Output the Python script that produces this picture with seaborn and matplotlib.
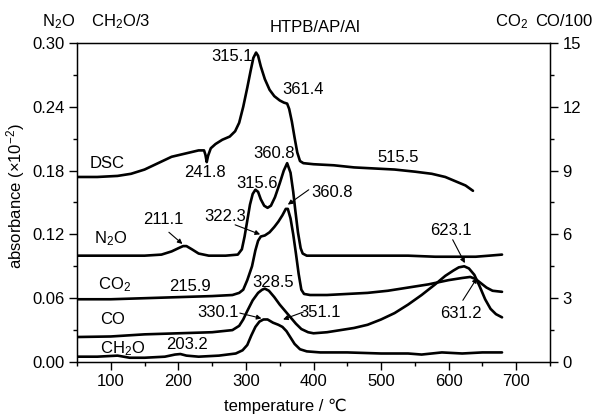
import matplotlib
matplotlib.use("Agg")
import matplotlib.pyplot as plt
import seaborn as sns
from matplotlib.ticker import MultipleLocator

sns.set_style("ticks")
plt.rcParams['font.family'] = ['Liberation Sans', 'DejaVu Sans']
plt.rcParams['mathtext.default'] = 'regular'
plt.rcParams['text.color'] = 'black'
plt.rcParams['axes.labelcolor'] = 'black'
plt.rcParams['axes.edgecolor'] = 'black'
plt.rcParams['xtick.color'] = 'black'
plt.rcParams['ytick.color'] = 'black'

# ---- data (temperature in C, absorbance) ----
dsc_t = [50, 80, 110, 130, 150, 170, 190, 210, 230, 238, 240, 242, 244, 248, 255, 265, 276,
         284, 290, 296, 302, 307, 311, 315, 318, 322, 328, 335, 342, 350, 356, 361, 364, 368,
         372, 376, 380, 385, 400, 430, 460, 490, 520, 550, 575, 595, 610, 625, 636]
dsc_y = [.174, .174, .175, .177, .181, .187, .193, .196, .199, .199, .195, .188, .194, .201,
         .205, .209, .212, .217, .225, .240, .258, .274, .286, .291, .288, .278, .266, .256,
         .250, .246, .244, .243, .238, .226, .211, .197, .189, .187, .186, .185, .183, .182,
         .181, .179, .177, .174, .170, .166, .161]

n2o_t = [50, 100, 150, 175, 190, 200, 207, 212, 220, 230, 245, 270, 288, 294, 298, 302, 306,
         310, 314, 318, 322, 327, 332, 337, 343, 350, 356, 361, 366, 370, 373, 377, 381, 384,
         390, 420, 460, 500, 540, 580, 610, 640, 660, 679]
n2o_y = [.100, .100, .100, .101, .104, .107, .109, .109, .106, .102, .100, .100, .101, .106,
         .118, .133, .148, .158, .162, .160, .153, .147, .145, .147, .155, .168, .180, .187,
         .178, .160, .143, .122, .107, .102, .100, .100, .100, .100, .100, .099, .099, .099,
         .100, .101]

co2_t = [50, 100, 150, 200, 250, 280, 290, 296, 302, 309, 314, 318, 322, 328, 335, 342, 348,
         354, 359, 362, 366, 370, 374, 378, 382, 386, 395, 420, 450, 480, 510, 540, 570, 600,
         620, 632, 640, 648, 656, 665, 679]
co2_y = [.059, .059, .060, .061, .062, .063, .065, .068, .077, .090, .105, .114, .118, .119,
         .122, .127, .132, .138, .144, .144, .135, .120, .102, .083, .068, .064, .063, .063,
         .064, .065, .067, .070, .073, .077, .079, .080, .078, .074, .070, .067, .066]

co_t = [50, 100, 150, 200, 250, 280, 290, 296, 302, 310, 318, 324, 328, 334, 342, 350, 358,
        366, 374, 382, 392, 400, 420, 440, 460, 480, 500, 520, 540, 560, 580, 595, 607, 615,
        623, 630, 638, 646, 654, 662, 670, 679]
co_y = [.0235, .024, .026, .027, .028, .030, .034, .040, .048, .058, .065, .068, .069, .067,
        .061, .054, .048, .042, .036, .031, .028, .027, .028, .030, .032, .035, .040, .046,
        .054, .063, .073, .081, .086, .089, .090, .088, .082, .071, .059, .050, .045, .042]

ch2o_t = [50, 80, 110, 128, 150, 180, 195, 203, 212, 230, 260, 285, 295, 302, 308, 314, 320,
          326, 332, 340, 348, 354, 360, 366, 372, 380, 390, 410, 450, 500, 540, 560, 590,
          620, 650, 679]
ch2o_y = [.005, .005, .006, .004, .004, .005, .007, .0075, .006, .005, .006, .008, .011, .016,
          .025, .033, .038, .040, .040, .037, .035, .033, .029, .023, .017, .012, .010, .009,
          .009, .008, .008, .007, .009, .008, .009, .009]

curves = [(dsc_t, dsc_y), (n2o_t, n2o_y), (co2_t, co2_y), (co_t, co_y), (ch2o_t, ch2o_y)]

# plain labels: (text, x, y)
labels = [("DSC", 94, 0.187), ("N$_2$O", 99, 0.116), ("CO$_2$", 106, 0.073),
          ("CO", 102, 0.040), ("CH$_2$O", 117, 0.013),
          ("241.8", 239, 0.178), ("315.1", 279, 0.287), ("361.4", 384, 0.256),
          ("360.8", 341, 0.196), ("315.6", 316, 0.168), ("215.9", 217, 0.071),
          ("328.5", 340, 0.075), ("203.2", 213, 0.016), ("515.5", 525, 0.192)]

# labels with arrows: (text, text x, text y, arrow start x, y, arrow tip x, y)
arrow_labels = [("211.1", 177, 0.134, 186, 0.122, 206, 0.111),
                ("322.3", 269, 0.137, 284, 0.129, 321, 0.120),
                ("360.8", 427, 0.159, 393, 0.162, 362, 0.148),
                ("330.1", 259, 0.047, 291, 0.046, 323, 0.041),
                ("351.1", 410, 0.047, 385, 0.047, 355, 0.040),
                ("623.1", 603, 0.124, 606, 0.115, 624, 0.093),
                ("631.2", 618, 0.046, 621, 0.058, 642, 0.079)]

fig = plt.figure(figsize=(5.95, 4.19), dpi=100)
ax = fig.add_axes([77/595, 1-362/419, 473/595, 319/419])

for t, y in curves:
    sns.lineplot(x=t, y=y, ax=ax, color='black', lw=1.9)

fs = 12
for txt, x, y in labels:
    ax.text(x, y, txt, fontsize=fs, ha='center', va='center')
for txt, x, y, x0, y0, x1, y1 in arrow_labels:
    ax.text(x, y, txt, fontsize=fs, ha='center', va='center')
    ax.annotate('', xy=(x1, y1), xytext=(x0, y0),
                arrowprops=dict(arrowstyle='-|>', color='black', lw=0.8,
                                mutation_scale=7, shrinkA=0, shrinkB=0))

ax.set_xlim(50, 750)
ax.set_ylim(0, 0.30)
ax.set_xticks([100, 200, 300, 400, 500, 600, 700])
ax.xaxis.set_minor_locator(MultipleLocator(50))
ax.yaxis.set_major_locator(MultipleLocator(0.06))
ax.yaxis.set_minor_locator(MultipleLocator(0.03))
ax.yaxis.set_major_formatter(matplotlib.ticker.FormatStrFormatter('%.2f'))
ax.tick_params(which='major', direction='out', length=6, width=1, labelsize=fs, pad=3)
ax.tick_params(which='minor', direction='out', length=3, width=1)
for s in ax.spines.values():
    s.set_linewidth(1.0)
    s.set_visible(True)

ax2 = ax.twinx()
ax2.set_ylim(0, 15)
ax2.yaxis.set_major_locator(MultipleLocator(3))
ax2.yaxis.set_minor_locator(MultipleLocator(1.5))
ax2.tick_params(which='major', direction='out', length=6, width=1, labelsize=fs, pad=3)
ax2.tick_params(which='minor', direction='out', length=3, width=1)

ax.set_xlabel("temperature / \u2103", fontsize=fs)
ax.xaxis.set_label_coords((285-77)/473, -0.115)
ax.set_ylabel("absorbance (\u00d710$^{-2}$)", fontsize=fs)
ax.yaxis.set_label_coords(-0.105, 0.52)

fig.text(59/595, 1-22/419, "N$_2$O", fontsize=fs, ha='center', va='center')
fig.text(121/595, 1-22/419, "CH$_2$O/3", fontsize=fs, ha='center', va='center')
fig.text(315/595, 1-28/419, "HTPB/AP/Al", fontsize=fs, ha='center', va='center')
fig.text(512/595, 1-22/419, "CO$_2$", fontsize=fs, ha='center', va='center')
fig.text(564/595, 1-22/419, "CO/100", fontsize=fs, ha='center', va='center')

fig.savefig("out.png", dpi=100)
